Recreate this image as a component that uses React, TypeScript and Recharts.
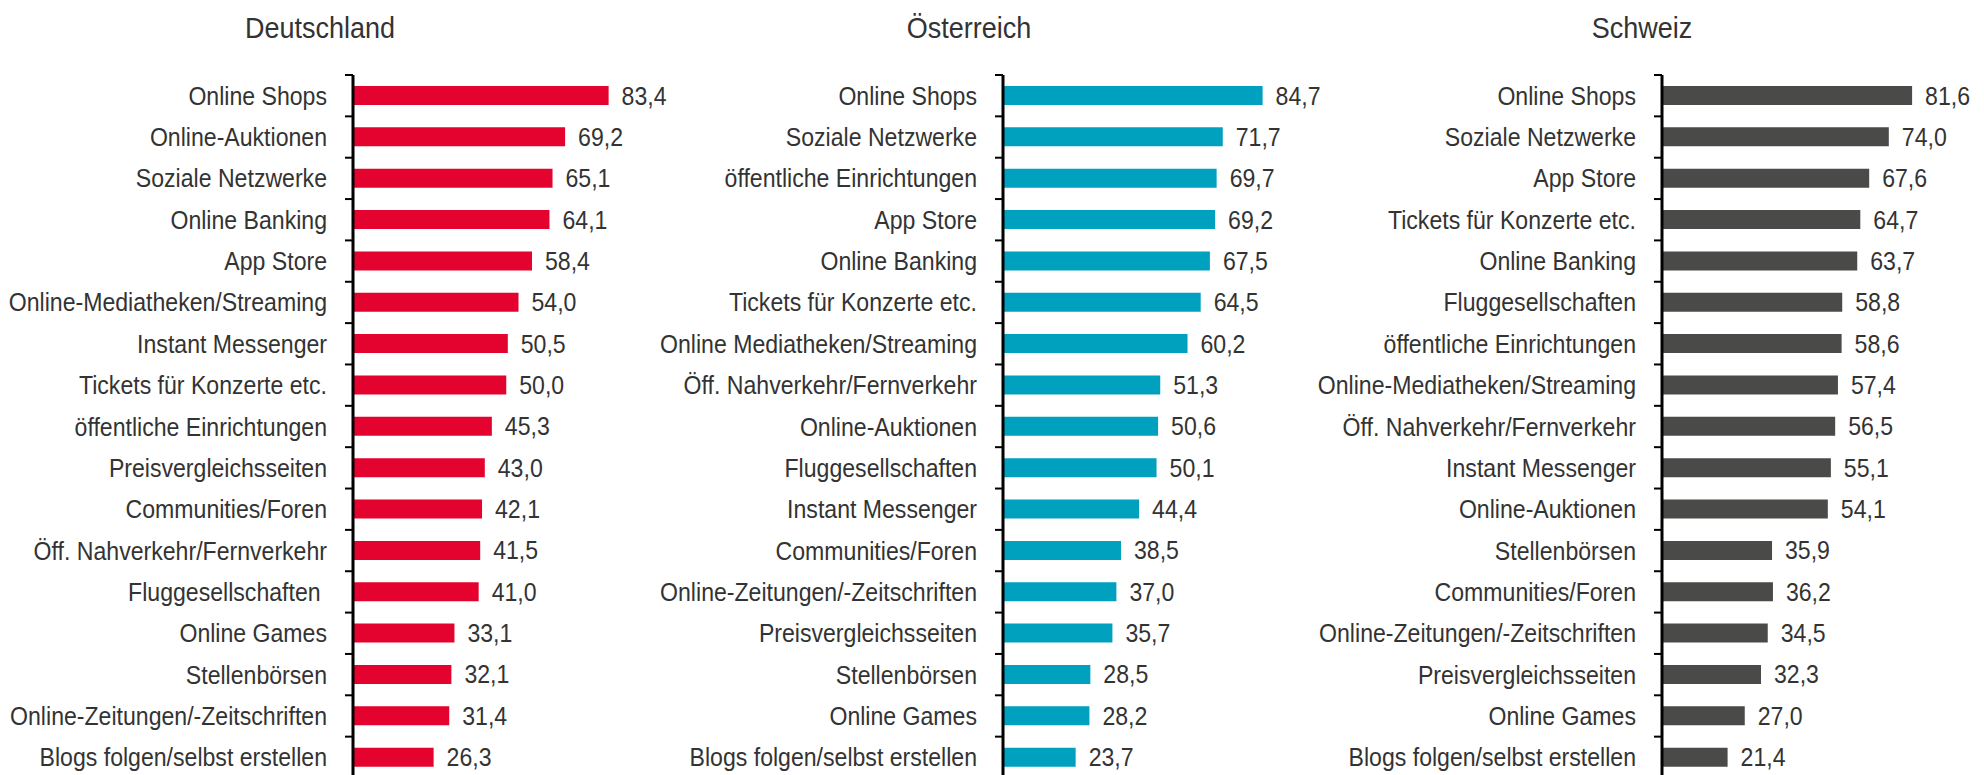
import React from "react";
import { BarChart, Bar, XAxis, YAxis, LabelList } from "recharts";

const deCategories = [
  "Online Shops",
  "Online-Auktionen",
  "Soziale Netzwerke",
  "Online Banking",
  "App Store",
  "Online-Mediatheken/Streaming",
  "Instant Messenger",
  "Tickets für Konzerte etc.",
  "öffentliche Einrichtungen",
  "Preisvergleichsseiten",
  "Communities/Foren",
  "Öff. Nahverkehr/Fernverkehr",
  "Fluggesellschaften\u00A0",
  "Online Games",
  "Stellenbörsen",
  "Online-Zeitungen/-Zeitschriften",
  "Blogs folgen/selbst erstellen",
];
const deValues = [83.4, 69.2, 65.1, 64.1, 58.4, 54.0, 50.5, 50.0, 45.3, 43.0, 42.1, 41.5, 41.0, 33.1, 32.1, 31.4, 26.3];

const atCategories = [
  "Online Shops",
  "Soziale Netzwerke",
  "öffentliche Einrichtungen",
  "App Store",
  "Online Banking",
  "Tickets für Konzerte etc.",
  "Online Mediatheken/Streaming",
  "Öff. Nahverkehr/Fernverkehr",
  "Online-Auktionen",
  "Fluggesellschaften",
  "Instant Messenger",
  "Communities/Foren",
  "Online-Zeitungen/-Zeitschriften",
  "Preisvergleichsseiten",
  "Stellenbörsen",
  "Online Games",
  "Blogs folgen/selbst erstellen",
];
const atValues = [84.7, 71.7, 69.7, 69.2, 67.5, 64.5, 60.2, 51.3, 50.6, 50.1, 44.4, 38.5, 37.0, 35.7, 28.5, 28.2, 23.7];

const chCategories = [
  "Online Shops",
  "Soziale Netzwerke",
  "App Store",
  "Tickets für Konzerte etc.",
  "Online Banking",
  "Fluggesellschaften",
  "öffentliche Einrichtungen",
  "Online-Mediatheken/Streaming",
  "Öff. Nahverkehr/Fernverkehr",
  "Instant Messenger",
  "Online-Auktionen",
  "Stellenbörsen",
  "Communities/Foren",
  "Online-Zeitungen/-Zeitschriften",
  "Preisvergleichsseiten",
  "Online Games",
  "Blogs folgen/selbst erstellen",
];
const chValues = [81.6, 74.0, 67.6, 64.7, 63.7, 58.8, 58.6, 57.4, 56.5, 55.1, 54.1, 35.9, 36.2, 34.5, 32.3, 27.0, 21.4];

const titles = ["Deutschland", "Österreich", "Schweiz"];
const colors = ["#E4032E", "#00A0BF", "#4A4A49"];

const FONT = '"Liberation Sans", Arial, sans-serif';
const TEXT = "#333333";
const FS = 23.1;
const SY = 1.1;
const PLOT_TOP = 75;
const PLOT_H = 703;
const CHART_H = PLOT_TOP + PLOT_H + 2;
const YW = 360;
const PLOT_W = 306.5;
const RIGHT = 110;
const CHART_W = YW + PLOT_W + RIGHT;
const BAND = PLOT_H / 17;

const panels = [
  { title: titles[0], cats: deCategories, vals: deValues, color: colors[0], axisX: 353, titleX: 320 },
  { title: titles[1], cats: atCategories, vals: atValues, color: colors[1], axisX: 1003, titleX: 969 },
  { title: titles[2], cats: chCategories, vals: chValues, color: colors[2], axisX: 1662, titleX: 1642 },
];

const fmt = (v: any) => Number(v).toFixed(1).replace(".", ",");

const stretch = (y: number) => `translate(0 ${y}) scale(1 ${SY}) translate(0 ${-y})`;

const CatTick = (props: any) => {
  const { x, y, payload } = props;
  const half = payload && payload.offset ? payload.offset : BAND / 2;
  return (
    <g>
      <line x1={x - 8} x2={x} y1={y - half} y2={y - half} stroke="#000" strokeWidth={2} />
      <text
        x={x - 26}
        y={y}
        dy="0.355em"
        textAnchor="end"
        fill={TEXT}
        fontSize={FS}
        fontFamily={FONT}
        transform={stretch(y)}
      >
        {payload.value}
      </text>
    </g>
  );
};

const ValueLabel = (props: any) => {
  const { x, y, width, height, value } = props;
  const cx = Number(x) + Number(width) + 13;
  const cy = Number(y) + Number(height) / 2;
  return (
    <text
      x={cx}
      y={cy}
      dy="0.355em"
      textAnchor="start"
      fill={TEXT}
      fontSize={FS}
      fontFamily={FONT}
      transform={stretch(cy)}
    >
      {fmt(value)}
    </text>
  );
};

function Panel({ p }: { p: any }) {
  const data = p.cats.map((c: string, i: number) => ({ name: c, value: p.vals[i] }));
  return (
    <div style={{ position: "absolute", left: p.axisX - YW, top: 0 }}>
      <BarChart
        width={CHART_W}
        height={CHART_H}
        data={data}
        layout="vertical"
        margin={{ top: PLOT_TOP, right: RIGHT, bottom: 2, left: 0 }}
        barCategoryGap={0}
      >
        <XAxis type="number" domain={[0, 100]} hide />
        <YAxis
          type="category"
          dataKey="name"
          width={YW}
          interval={0}
          tickSize={0}
          tickMargin={0}
          tickLine={false}
          axisLine={{ stroke: "#000", strokeWidth: 3 }}
          tick={<CatTick />}
        />
        <Bar dataKey="value" fill={p.color} barSize={19} isAnimationActive={false}>
          <LabelList dataKey="value" content={<ValueLabel />} />
        </Bar>
      </BarChart>
    </div>
  );
}

export default function App() {
  return (
    <div
      style={{
        position: "absolute",
        left: 0,
        top: 0,
        width: 1984,
        height: 775,
        overflow: "hidden",
        background: "#fff",
        fontFamily: FONT,
      }}
    >
      {panels.map((p) => (
        <Panel key={p.title} p={p} />
      ))}
      {panels.map((p) => (
        <div
          key={"t" + p.title}
          style={{
            position: "absolute",
            left: p.titleX - 150,
            width: 300,
            top: 10,
            textAlign: "center",
            fontSize: 27,
            lineHeight: "36px",
            color: TEXT,
            transform: "scaleY(1.08)",
          }}
        >
          {p.title}
        </div>
      ))}
    </div>
  );
}
